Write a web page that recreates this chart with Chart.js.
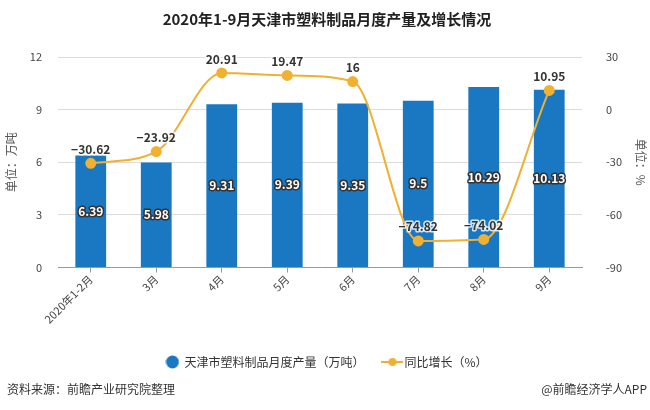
<!DOCTYPE html>
<html>
<head>
<meta charset="utf-8">
<script src="https://cdn.jsdelivr.net/npm/chart.js@4.4.1/dist/chart.umd.min.js"></script>
<style>
  body { margin: 0; background: #fff; }
  #wrap { width: 650px; height: 410px; }
</style>
</head>
<body>
<div id="wrap"><canvas id="chart" width="650" height="410"></canvas></div>
<script>
const months = ['2020年1-2月', '3月', '4月', '5月', '6月', '7月', '8月', '9月']
const output = [6.39, 5.98, 9.31, 9.39, 9.35, 9.5, 10.29, 10.13]
const growth = [-30.62, -23.92, 20.91, 19.47, 16, -74.82, -74.02, 10.95]
const leftTicks = [0, 3, 6, 9, 12]
const rightTicks = [-90, -60, -30, 0, 30]

const FONT = "'Noto Sans CJK SC', 'Noto Sans', sans-serif"
const BLUE = '#1a78c2'
const ORANGE = '#f0b132'

// legend marker for the line series: short line with a dot
const lineMarker = () => {
    let c = document.createElement('canvas')
    c.width = 22
    c.height = 10
    let g = c.getContext('2d')
    g.strokeStyle = ORANGE
    g.lineWidth = 2
    g.beginPath()
    g.moveTo(0, 5)
    g.lineTo(22, 5)
    g.stroke()
    g.fillStyle = ORANGE
    g.beginPath()
    g.arc(11, 5, 4, 0, Math.PI * 2)
    g.fill()
    return c
}

const dotMarker = () => {
    let c = document.createElement('canvas')
    c.width = 14
    c.height = 14
    let g = c.getContext('2d')
    g.fillStyle = BLUE
    g.beginPath()
    g.arc(7, 7, 6.5, 0, Math.PI * 2)
    g.fill()
    return c
}

const valueLabels = {
    id: 'valueLabels',
    afterDatasetsDraw(chart) {
        let ctx = chart.ctx
        ctx.save()
        ctx.textAlign = 'center'
        ctx.textBaseline = 'middle'
        ctx.font = 'bold 12px ' + FONT

        // bar values, white with a dark outline, in the middle of the bar
        chart.getDatasetMeta(0).data.forEach((bar, i) => {
            let y = (bar.y + bar.base) / 2
            ctx.lineJoin = 'round'
            ctx.lineWidth = 3
            ctx.strokeStyle = '#333'
            ctx.strokeText(output[i], bar.x, y)
            ctx.fillStyle = '#fff'
            ctx.fillText(output[i], bar.x, y)
        })

        // growth values above the points
        chart.getDatasetMeta(1).data.forEach((pt, i) => {
            let txt = growth[i] < 0 ? '\u2212' + Math.abs(growth[i]) : String(growth[i])
            ctx.lineWidth = 3
            ctx.strokeStyle = 'rgba(255,255,255,0.8)'
            ctx.strokeText(txt, pt.x, pt.y - 14)
            ctx.fillStyle = '#333'
            ctx.fillText(txt, pt.x, pt.y - 14)
        })
        ctx.restore()
    },
    afterDraw(chart) {
        let ctx = chart.ctx
        ctx.save()
        ctx.font = '12px ' + FONT
        ctx.fillStyle = '#333'
        ctx.textBaseline = 'middle'
        ctx.textAlign = 'left'
        ctx.fillText('资料来源：前瞻产业研究院整理', 7, 389)
        ctx.textAlign = 'right'
        ctx.fillText('@前瞻经济学人APP', 647, 389)
        ctx.restore()
    }
}

Chart.defaults.font.family = FONT
Chart.defaults.color = '#555'

new Chart(document.getElementById('chart'), {
    data: {
        labels: months,
        datasets: [
            {
                type: 'bar',
                label: '天津市塑料制品月度产量（万吨）',
                data: output,
                backgroundColor: BLUE,
                yAxisID: 'y',
                barPercentage: 0.47,
                categoryPercentage: 1,
                order: 2,
            },
            {
                type: 'line',
                label: '同比增长（%）',
                data: growth,
                borderColor: ORANGE,
                backgroundColor: ORANGE,
                borderWidth: 2,
                pointRadius: 4.5,
                pointHoverRadius: 4.5,
                cubicInterpolationMode: 'monotone',
                yAxisID: 'y1',
                order: 1,
            }
        ]
    },
    options: {
        responsive: false,
        animation: false,
        layout: { padding: { top: 0, bottom: 32, left: 4, right: 0 } },
        scales: {
            x: {
                grid: { drawOnChartArea: false, drawTicks: true, tickLength: 5, color: '#999', offset: false },
                border: { color: '#999' },
                ticks: { minRotation: 45, maxRotation: 45, color: '#444', font: { size: 11 }, padding: 0 },
                afterFit: (axis) => { axis.height += 8 },
            },
            y: {
                position: 'left',
                min: 0,
                max: 12,
                afterBuildTicks: (axis) => { axis.ticks = leftTicks.map(v => ({ value: v })) },
                afterFit: (axis) => { axis.width = 54 },
                grid: { color: '#dcdcdc', drawTicks: false },
                border: { display: false },
                ticks: { color: '#444', font: { size: 11 }, padding: 16 },
                title: { display: true, text: '单位：万吨', color: '#555', font: { size: 12 }, padding: { top: 0, bottom: 2 } },
            },
            y1: {
                position: 'right',
                min: -90,
                max: 30,
                afterBuildTicks: (axis) => { axis.ticks = rightTicks.map(v => ({ value: v })) },
                afterFit: (axis) => { axis.width = 68 },
                grid: { display: false },
                border: { display: false },
                ticks: { color: '#444', font: { size: 11 }, padding: 16 },
                title: { display: true, text: '单位：%', color: '#555', font: { size: 12 }, padding: { top: 2, bottom: 11 } },
            }
        },
        plugins: {
            title: {
                display: true,
                text: '2020年1-9月天津市塑料制品月度产量及增长情况',
                color: '#222',
                font: { size: 15, weight: 'bold' },
                padding: { top: 10, bottom: 29 },
            },
            legend: {
                position: 'bottom',
                labels: {
                    usePointStyle: true,
                    color: '#333',
                    font: { size: 12 },
                    padding: 22,
                    sort: (a, b) => a.datasetIndex - b.datasetIndex,
                    generateLabels: (chart) => {
                        let items = Chart.defaults.plugins.legend.labels.generateLabels(chart)
                        items.forEach(it => {
                            it.pointStyle = it.datasetIndex === 0 ? dotMarker() : lineMarker()
                        })
                        return items
                    }
                }
            },
            tooltip: { enabled: false }
        }
    },
    plugins: [valueLabels]
})
</script>
</body>
</html>
